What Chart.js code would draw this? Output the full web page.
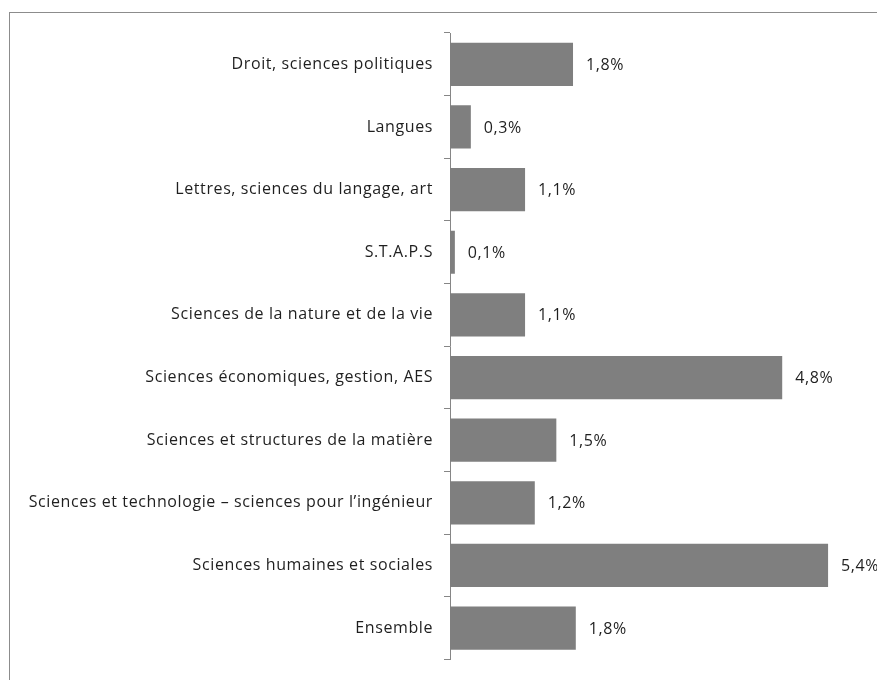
<!DOCTYPE html>
<html>
<head>
<meta charset="utf-8">
<script src="https://cdn.jsdelivr.net/npm/chart.js@4"></script>
<style>
  html, body { margin: 0; padding: 0; background: #fff; }
  #wrap { width: 877px; height: 680px; position: relative; }
</style>
</head>
<body>
<div id="wrap"><canvas id="taux"></canvas></div>
<script>
var categories = [
  "Droit, sciences politiques",
  "Langues",
  "Lettres, sciences du langage, art",
  "S.T.A.P.S",
  "Sciences de la nature et de la vie",
  "Sciences économiques, gestion, AES",
  "Sciences et structures de la matière",
  "Sciences et technologie \u2013 sciences pour l\u2019ingénieur",
  "Sciences humaines et sociales",
  "Ensemble"
];
var rates = [1.77, 0.30, 1.08, 0.07, 1.08, 4.78, 1.53, 1.22, 5.44, 1.81];

var FONT = "'Open Sans', sans-serif";
var FONT_SIZE = 16;

// frame of the original chart object (only top and left edges are visible)
// also widens the letter spacing a little, like the original's font
var framePlugin = {
  id: 'frame',
  beforeDraw: function (chart) {
    var ctx = chart.ctx;
    ctx.letterSpacing = '0.6px';
    ctx.save();
    ctx.strokeStyle = '#8c8c8c';
    ctx.lineWidth = 1;
    ctx.strokeRect(9.5, 12.5, 1000, 1000);
    ctx.restore();
  }
};

// value labels to the right of each bar
var valueLabels = {
  id: 'valueLabels',
  afterDatasetsDraw: function (chart) {
    var ctx = chart.ctx;
    var meta = chart.getDatasetMeta(0);
    ctx.save();
    ctx.font = FONT_SIZE + 'px ' + FONT;
    ctx.fillStyle = '#1f1f1f';
    ctx.textBaseline = 'middle';
    ctx.textAlign = 'left';
    meta.data.forEach(function (bar, i) {
      var txt = rates[i].toFixed(1).replace('.', ',') + '%';
      ctx.fillText(txt, bar.x + 13, bar.y + 1);
    });
    ctx.restore();
  }
};

new Chart(document.getElementById("taux"), {
  type: 'bar',
  data: {
    labels: categories,
    datasets: [{
      data: rates,
      backgroundColor: '#7f7f7f',
      borderWidth: 0,
      categoryPercentage: 1,
      barPercentage: 0.69
    }]
  },
  options: {
    indexAxis: 'y',
    responsive: true,
    maintainAspectRatio: false,
    animation: false,
    layout: { padding: { top: 33, bottom: 17, left: 0, right: 10 } },
    plugins: {
      legend: { display: false },
      tooltip: { enabled: false }
    },
    scales: {
      x: {
        display: false,
        min: 0,
        max: 6
      },
      y: {
        afterFit: function (scale) { scale.width = 450; },
        border: { display: true, color: '#868686', width: 1 },
        grid: {
          offset: true,
          drawOnChartArea: false,
          drawTicks: true,
          tickLength: 6,
          color: '#868686'
        },
        ticks: {
          color: '#1f1f1f',
          padding: 11,
          font: { family: FONT, size: FONT_SIZE }
        }
      }
    }
  },
  plugins: [framePlugin, valueLabels]
});
</script>
</body>
</html>
